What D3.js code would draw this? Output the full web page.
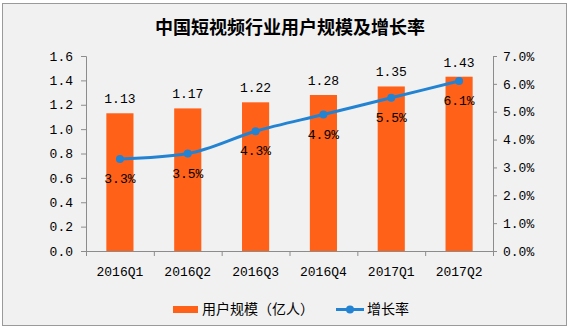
<!DOCTYPE html>
<html><head><meta charset="utf-8">
<script src="https://cdn.jsdelivr.net/npm/d3@7"></script>
<style>body{margin:0;background:#fff}svg{display:block}</style>
</head><body>
<svg id="c" width="579" height="331"></svg>
<script>
const categories = ["2016Q1","2016Q2","2016Q3","2016Q4","2017Q1","2017Q2"];
const users = [1.13,1.17,1.22,1.28,1.35,1.43];
const growth = [3.3,3.5,4.3,4.9,5.5,6.1];
const leftTicks = [0,0.2,0.4,0.6,0.8,1.0,1.2,1.4,1.6];
const rightTicks = [0,1,2,3,4,5,6,7];
const title = "中国短视频行业用户规模及增长率";
const legendBar = "用户规模（亿人）";
const legendLine = "增长率";

const svg = d3.select("#c");
const mono = "'Liberation Mono', 'DejaVu Sans Mono', monospace";
const cjk = "'Noto Sans CJK SC', sans-serif";
const orange = "#FF6119", blue = "#2383D3", axisC = "#8c8c8c";

// faint outer grid
const g0 = svg.append("g").attr("stroke","#e3e6ea").attr("stroke-width",1);
[-1,49,99,149,199,249,299].forEach(y=>{});
svg.append("rect").attr("x",2.5).attr("y",3.5).attr("width",564).attr("height",322)
  .attr("fill","#f1f1f1").attr("stroke","#9a9a9a");

const x = d3.scaleBand().domain(categories).range([86,493]).paddingInner(0.6).paddingOuter(0.3);
const yL = d3.scaleLinear().domain([0,1.6]).range([251,56]);
const yR = d3.scaleLinear().domain([0,7]).range([251,56]);

svg.append("text").attr("x",290).attr("y",34).attr("text-anchor","middle")
  .attr("font-family",cjk).attr("font-weight","bold").attr("font-size",18).text(title);

// bars
svg.selectAll("rect.bar").data(users).join("rect").attr("class","bar")
  .attr("x",(d,i)=>x(categories[i])).attr("width",x.bandwidth())
  .attr("y",d=>yL(d)).attr("height",d=>yL(0)-yL(d)).attr("fill",orange);

// axes
const axL = d3.axisLeft(yL).tickValues(leftTicks).tickFormat(d3.format(".1f")).tickSize(5).tickPadding(8);
const axR = d3.axisRight(yR).tickValues(rightTicks).tickFormat(d=>d.toFixed(1)+"%").tickSize(4).tickPadding(6);
const band = x.step();
const axB = d3.axisBottom(x).tickSize(0).tickPadding(16);
function style(g){
  g.select(".domain").attr("stroke",axisC);
  g.selectAll(".tick line").attr("stroke",axisC);
  g.selectAll("text").attr("font-family",mono).attr("font-size",13).attr("fill","#000");
}
svg.append("g").attr("transform","translate(86,0)").call(axL).call(style)
  .call(g=>g.select(".domain").attr("d","M-5,56.5H0.5V251.5H-5"));
svg.append("g").attr("transform","translate(493,0)").call(axR).call(style)
  .call(g=>g.select(".domain").attr("d","M4,56.5H0.5V251.5H4"));
const gb = svg.append("g").attr("transform","translate(0,251)").call(axB).call(style);
gb.select(".domain").attr("d","M86,0.5H493");
// category boundary ticks
const bounds = d3.range(categories.length+1).map(i=>86+i*band);
gb.selectAll("line.bt").data(bounds).join("line").attr("class","bt")
  .attr("x1",d=>d+0.5).attr("x2",d=>d+0.5).attr("y1",0).attr("y2",5).attr("stroke",axisC);

// line
const cx = (d,i)=>x(categories[i])+x.bandwidth()/2;
const line = d3.line().x(cx).y(d=>yR(d)).curve(d3.curveMonotoneX);
svg.append("path").datum(growth).attr("d",line).attr("fill","none").attr("stroke",blue).attr("stroke-width",3);
svg.selectAll("circle.pt").data(growth).join("circle").attr("class","pt")
  .attr("cx",cx).attr("cy",d=>yR(d)).attr("r",4).attr("fill",blue);

// labels
svg.selectAll("text.bl").data(users).join("text").attr("class","bl")
  .attr("x",cx).attr("y",d=>yL(d)-10).attr("text-anchor","middle")
  .attr("font-family",mono).attr("font-size",13).text(d=>d.toFixed(2));
svg.selectAll("text.gl").data(growth).join("text").attr("class","gl")
  .attr("x",cx).attr("y",d=>yR(d)+24).attr("text-anchor","middle")
  .attr("font-family",mono).attr("font-size",13).text(d=>d.toFixed(1)+"%");

// legend
svg.append("rect").attr("x",173).attr("y",306).attr("width",25).attr("height",7).attr("fill",orange);
svg.append("text").attr("x",202).attr("y",314).attr("font-family",cjk).attr("font-size",14).text(legendBar);
svg.append("line").attr("x1",336).attr("x2",364).attr("y1",309.5).attr("y2",309.5).attr("stroke",blue).attr("stroke-width",3);
svg.append("circle").attr("cx",350).attr("cy",309.5).attr("r",4).attr("fill",blue);
svg.append("text").attr("x",367).attr("y",314).attr("font-family",cjk).attr("font-size",14).text(legendLine);
</script>
</body></html>
